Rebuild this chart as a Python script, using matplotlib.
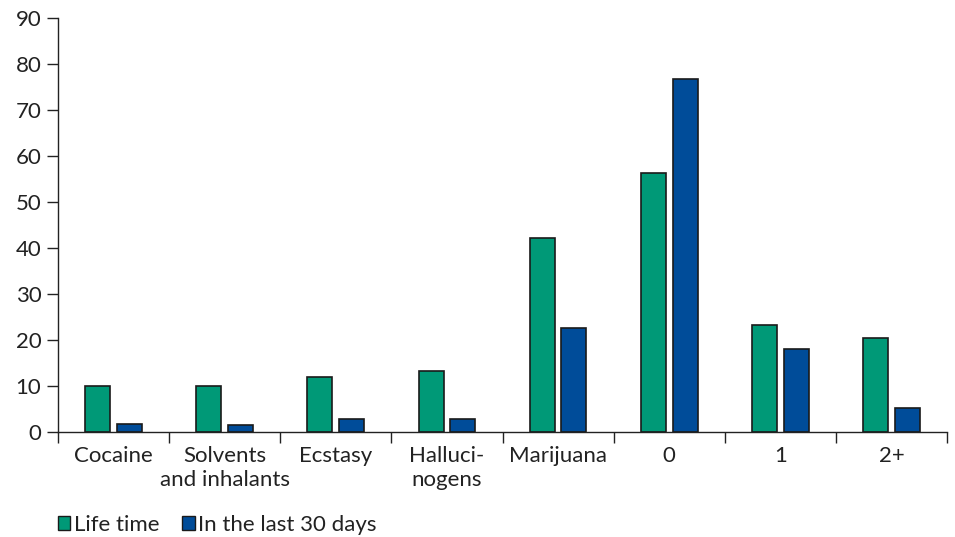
import matplotlib
matplotlib.use("Agg")
import matplotlib.pyplot as plt
import numpy as np
from matplotlib.patches import Patch

categories = ["Cocaine", "Solvents\nand inhalants", "Ecstasy", "Halluci-\nnogens", "Marijuana", "0", "1", "2+"]
life_time = [10.0, 10.0, 12.0, 13.2, 42.2, 56.2, 23.3, 20.4]
last_30_days = [1.7, 1.5, 2.8, 2.8, 22.6, 76.7, 18.0, 5.2]
series_names = ["Life time", "In the last 30 days"]
yticks = [0, 10, 20, 30, 40, 50, 60, 70, 80, 90]

plt.rcParams['font.family'] = ['Lato', 'DejaVu Sans']
FS = 16

fig = plt.figure(figsize=(9.55, 5.37), dpi=100)
ax = fig.add_axes([58/955, (537-432)/537, (947-58)/955, (432-18)/537])

x = np.arange(len(categories))
w = 0.225
gap = 0.03
green = "#009977"
blue = "#004C99"
ax.bar(x - w/2 - gap, life_time, width=w, color=green, edgecolor="#1a1a1a", linewidth=1.2, label=series_names[0])
ax.bar(x + w/2 + gap, last_30_days, width=w, color=blue, edgecolor="#1a1a1a", linewidth=1.2, label=series_names[1])

ax.set_xlim(-0.5, len(categories) - 0.5)
ax.set_ylim(0, 90)
ax.set_yticks(yticks)
ax.tick_params(axis='y', labelsize=FS, length=8, width=1, direction='out', colors='#222222', labelcolor='#222222', pad=4)

ax.set_xticks(np.arange(-0.5, len(categories)), minor=False)
ax.set_xticklabels([])
ax.tick_params(axis='x', which='major', length=8, width=1, direction='out', colors='#222222')
ax.set_xticks(x, minor=True)
ax.set_xticklabels(categories, minor=True, fontsize=FS, color='#222222', va='top', linespacing=1.28)
ax.tick_params(axis='x', which='minor', length=0, pad=10)

for s in ['top', 'right']:
    ax.spines[s].set_visible(False)
for s in ['left', 'bottom']:
    ax.spines[s].set_color('#222222')
    ax.spines[s].set_linewidth(1)

handles = [Patch(facecolor=green, edgecolor="#1a1a1a"), Patch(facecolor=blue, edgecolor="#1a1a1a")]
fig.legend(handles, series_names, loc='lower left', bbox_to_anchor=(38/955, -0.033), ncol=2,
           frameon=False, fontsize=FS, handlelength=0.55, handleheight=0.55, handletextpad=0.15,
           columnspacing=1.05, labelcolor='#222222')

fig.savefig("out.png", dpi=100)
